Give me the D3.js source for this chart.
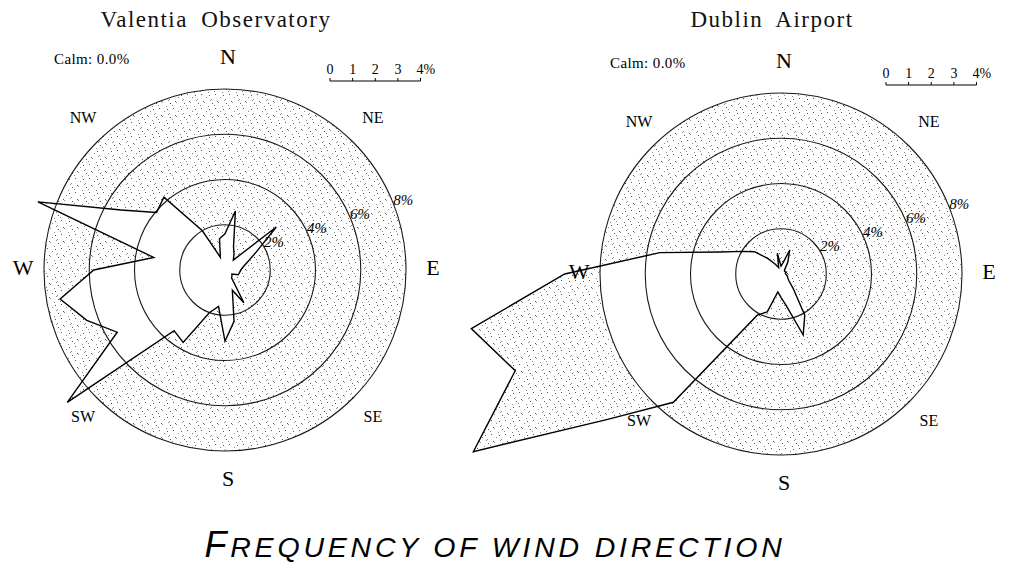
<!DOCTYPE html>
<html>
<head>
<meta charset="utf-8">
<script src="https://cdn.jsdelivr.net/npm/d3@7"></script>
<style>
  html, body { margin: 0; padding: 0; background: #fff; }
  svg { display: block; }
</style>
</head>
<body>
<svg id="chart" width="1009" height="571"></svg>
<script>
// Wind direction sectors (degrees clockwise from north)
const bearings = [0, 10, 20, 30, 40, 50, 60, 70, 80, 90, 100, 110,
                  120, 130, 140, 150, 160, 170, 180, 190, 200, 210, 220, 230,
                  240, 250, 260, 270, 280, 290, 300, 310, 320, 330, 340, 350];

// Frequency of wind from each sector (%)
const valentiaFreq = [1.6, 2.65, 1.1, 0.8, 0.57, 2.96, 1.6, 1.07, 0.82, 0.7, 0.65, 0.62,
                      0.35, 0.4, 0.45, 1.67, 0.95, 2.3, 3.15, 1.64, 2.0, 3.7, 3.5, 9.1,
                      5.5, 6.5, 7.4, 5.8, 3.2, 8.8, 5.3, 3.95, 4.2, 2.0, 0.6, 1.4];

const dublinFreq = [0.35, 0.5, 1.13, 0.6, 0.25, 0.2, 0.2, 0.25, 0.2, 0.2, 0.25, 0.3,
                    0.35, 0.45, 0.84, 2.1, 2.87, 1.45, 1.03, 0.8, 1.78, 2.1, 7.4, 10.0,
                    15.7, 12.5, 13.9, 9.56, 5.44, 2.84, 2.0, 1.53, 0.89, 0.5, 0.3, 0.93];

const stationNames = ["Valentia Observatory", "Dublin Airport"];
const calmLabels = ["Calm: 0.0%", "Calm: 0.0%"];

const ringLevels = [2, 4, 6, 8];
const ringLabels = ["2%", "4%", "6%", "8%"];

const compassNames = ["N", "NE", "E", "SE", "S", "SW", "W", "NW"];
const compassAngles = [0, 45, 90, 135, 180, 225, 270, 315];

const scaleTicks = [0, 1, 2, 3, 4];
const scaleTickLabels = ["0", "1", "2", "3", "4%"];

const figureTitleCap = "F";
const figureTitleRest = "REQUENCY OF WIND DIRECTION";

// ---------------------------------------------------------------------------
const svg = d3.select("#chart");
const serif = "'Liberation Serif', 'DejaVu Serif', serif";

// Stipple texture for the shaded background of each rose
const defs = svg.append("defs");
const pat = defs.append("pattern")
  .attr("id", "stipple")
  .attr("patternUnits", "userSpaceOnUse")
  .attr("width", 14).attr("height", 14);
[[1,1],[7,0],[11,4],[4,6],[9,9],[0,11],[6,13],[13,12],[3,3],[12,7]].forEach(([x, y], i) => {
  pat.append("rect").attr("x", x).attr("y", y).attr("width", 1).attr("height", 1)
    .attr("fill", i % 3 === 0 ? "#555" : "#8a8a8a");
});

const r = d3.scaleLinear().domain([0, 8]).range([0, 181]);
const rad = d => d * Math.PI / 180;

const roseLine = d3.lineRadial()
  .angle(d => rad(d[0]))
  .radius(d => r(d[1]))
  .curve(d3.curveLinearClosed);

const roses = [
  { name: stationNames[0], calm: calmLabels[0], freq: valentiaFreq, cx: 225, cy: 270 },
  { name: stationNames[1], calm: calmLabels[1], freq: dublinFreq,  cx: 781, cy: 274 }
];

roses.forEach(rose => {
  const g = svg.append("g").attr("transform", `translate(${rose.cx},${rose.cy})`);
  const pts = bearings.map((b, i) => [b, rose.freq[i]]);

  // shaded area: outer ring XOR the frequency polygon
  const outer = d3.path();
  outer.arc(0, 0, r(8), 0, 2 * Math.PI);
  outer.closePath();
  g.append("path")
    .attr("d", outer.toString() + roseLine(pts))
    .attr("fill", "url(#stipple)")
    .attr("fill-rule", "evenodd");

  // percentage rings
  g.selectAll("circle.ring").data(ringLevels).join("circle")
    .attr("class", "ring")
    .attr("r", d => r(d))
    .attr("fill", "none")
    .attr("stroke", "#1a1a1a")
    .attr("stroke-width", 1.1);

  // frequency polygon outline
  g.append("path")
    .attr("d", roseLine(pts))
    .attr("fill", "none")
    .attr("stroke", "#000")
    .attr("stroke-width", 1.4)
    .attr("stroke-linejoin", "miter");

  // ring labels
  const la = rad(72);
  g.selectAll("text.ringlab").data(ringLevels).join("text")
    .attr("class", "ringlab")
    .attr("x", d => r(d) * Math.sin(la) + 6)
    .attr("y", d => -r(d) * Math.cos(la) - 9)
    .attr("text-anchor", "middle")
    .attr("font-family", serif)
    .attr("font-style", "italic")
    .attr("font-size", 15)
    .text((d, i) => ringLabels[i]);

  // compass labels
  g.selectAll("text.compass").data(compassAngles).join("text")
    .attr("class", "compass")
    .attr("x", d => 205 * Math.sin(rad(d)) + 3)
    .attr("y", d => -211 * Math.cos(rad(d)) - 3)
    .attr("dy", "0.35em")
    .attr("text-anchor", "middle")
    .attr("font-family", serif)
    .attr("font-size", (d, i) => compassNames[i].length > 1 ? 16 : 22)
    .text((d, i) => compassNames[i]);

  // station title
  g.append("text")
    .attr("x", -9).attr("y", 27 - rose.cy)
    .attr("text-anchor", "middle")
    .attr("font-family", serif)
    .attr("font-size", 23)
    .attr("letter-spacing", 1.5)
    .attr("word-spacing", 6)
    .attr("fill", "#111")
    .text(rose.name);

  // calm percentage
  g.append("text")
    .attr("x", -171).attr("y", -206)
    .attr("font-family", serif)
    .attr("font-size", 15)
    .attr("letter-spacing", 0.4)
    .text(rose.calm);

  // distance scale bar
  const sx = d3.scaleLinear().domain([0, 4]).range([105, 105 + r(4)]);
  const sb = g.append("g").attr("transform", "translate(0,-189)");
  sb.append("line")
    .attr("x1", sx(0)).attr("x2", sx(4))
    .attr("stroke", "#000").attr("stroke-width", 1);
  sb.selectAll("line.tick").data(scaleTicks).join("line")
    .attr("class", "tick")
    .attr("x1", d => sx(d)).attr("x2", d => sx(d))
    .attr("y1", 0).attr("y2", -3)
    .attr("stroke", "#000").attr("stroke-width", 1);
  sb.selectAll("text").data(scaleTicks).join("text")
    .attr("x", d => d === 4 ? sx(d) - 4 : sx(d))
    .attr("y", -7)
    .attr("text-anchor", d => d === 4 ? "start" : "middle")
    .attr("font-family", serif)
    .attr("font-size", 14)
    .text((d, i) => scaleTickLabels[i]);
});

// figure caption
const cap = svg.append("text")
  .attr("x", 495).attr("y", 557)
  .attr("text-anchor", "middle")
  .attr("font-family", "'Liberation Sans', Arial, sans-serif")
  .attr("font-style", "italic")
  .attr("letter-spacing", 3.8);
cap.append("tspan").attr("font-size", 36).text(figureTitleCap);
cap.append("tspan").attr("font-size", 28.5).text(figureTitleRest);
</script>
</body>
</html>
